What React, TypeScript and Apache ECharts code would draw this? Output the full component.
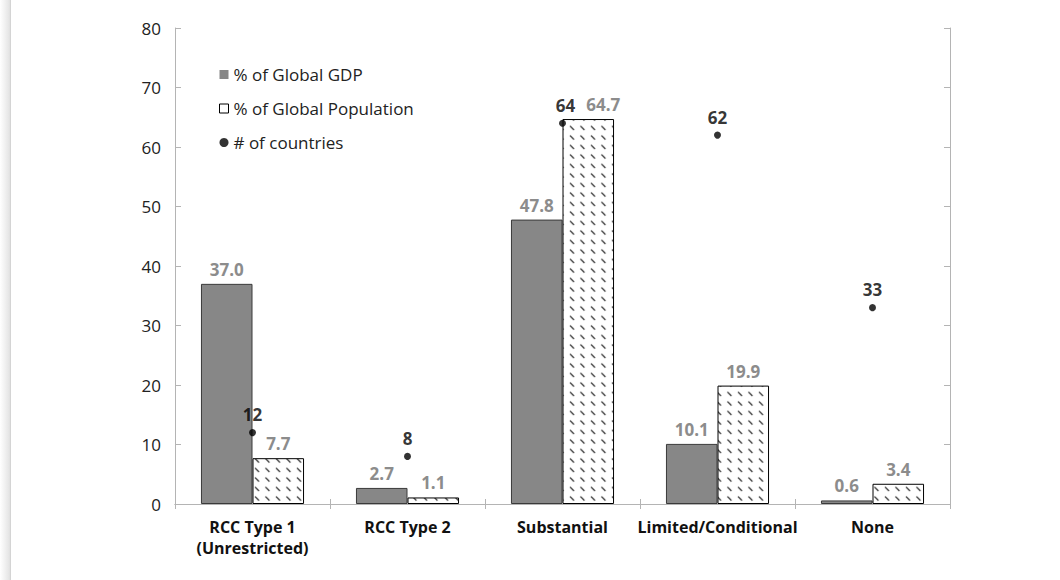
import React, { useEffect, useRef } from "react";
import * as echarts from "echarts";

const categories = ["RCC Type 1\n(Unrestricted)", "RCC Type 2", "Substantial", "Limited/Conditional", "None"];
const gdpShare = [37.0, 2.7, 47.8, 10.1, 0.6];
const popShare = [7.7, 1.1, 64.7, 19.9, 3.4];
const countries = [12, 8, 64, 62, 33];
const yTicks = { min: 0, max: 80, interval: 10 };

const FONT = "'Open Sans', 'Noto Sans', sans-serif";

const patternSvg =
  '<svg xmlns="http://www.w3.org/2000/svg" width="10.5" height="9.5"><rect width="10.5" height="9.5" fill="#fff"/><line x1="3" y1="2.5" x2="7" y2="6.5" stroke="#111" stroke-width="1.2"/></svg>';
const patternUrl = "data:image/svg+xml;base64," + btoa(patternSvg);

export default function App() {
  const ref = useRef<HTMLDivElement>(null);
  useEffect(() => {
    document.body.style.margin = "0";
    const chart = echarts.init(ref.current!, null, { renderer: "svg" });
    const axisLine = { show: true, lineStyle: { color: "#b4b4b4", width: 1 } };
    const barLabel = {
      show: true,
      position: "top",
      distance: 6,
      color: "#8c8c8c",
      fontWeight: "bold",
      fontSize: 17,
      fontFamily: FONT,
      formatter: (p: any) => Number(p.value).toFixed(1),
    };
    // nudge overlapping labels in the "Substantial" group sideways, as in the source
    const popData = popShare.map((v, i) => (i === 2 ? { value: v, label: { offset: [15, 0] } } : v));
    const countryData = countries.map((v, i) => (i === 2 ? { value: v, label: { offset: [3, 0] } } : v));
    chart.setOption({
      animation: false,
      backgroundColor: "#fff",
      textStyle: { fontFamily: FONT },
      grid: { left: 175, right: 110, top: 28, bottom: 76 },
      legend: {
        orient: "vertical",
        left: 214,
        top: 59,
        itemWidth: 9,
        itemHeight: 9,
        itemGap: 13,
        textStyle: { fontSize: 17, color: "#222", fontFamily: FONT, lineHeight: 21 },
        data: [
          { name: "% of Global GDP", icon: "rect", itemStyle: { color: "#878787", borderWidth: 0 } },
          { name: "% of Global Population", icon: "rect", itemStyle: { color: "#fff", borderColor: "#000", borderWidth: 1 } },
          { name: "# of countries", icon: "circle", itemStyle: { color: "#000" } },
        ],
      },
      xAxis: [
        {
          type: "category",
          data: categories,
          axisLine,
          axisTick: { show: true, inside: true, length: 5, lineStyle: { color: "#b4b4b4" } },
          axisLabel: { interval: 0, fontSize: 16, fontWeight: "bold", color: "#111", margin: 12, lineHeight: 21, fontFamily: FONT },
        },
        {
          type: "category",
          position: "top",
          data: categories,
          axisLine,
          axisTick: { show: true, inside: true, length: 5, lineStyle: { color: "#b4b4b4" } },
          axisLabel: { show: false },
        },
      ],
      yAxis: [
        {
          type: "value",
          min: yTicks.min,
          max: yTicks.max,
          interval: yTicks.interval,
          axisLine,
          axisTick: { show: true, inside: true, length: 6, lineStyle: { color: "#b4b4b4" } },
          splitLine: { show: false },
          axisLabel: { fontSize: 17, color: "#222", margin: 14, fontFamily: FONT },
        },
        {
          type: "value",
          position: "right",
          min: yTicks.min,
          max: yTicks.max,
          interval: yTicks.interval,
          axisLine,
          axisTick: { show: true, inside: true, length: 6, lineStyle: { color: "#b4b4b4" } },
          splitLine: { show: false },
          axisLabel: { show: false },
        },
      ],
      series: [
        {
          name: "% of Global GDP",
          type: "bar",
          data: gdpShare,
          barGap: "0%",
          barCategoryGap: "33.5%",
          itemStyle: { color: "#878787", borderColor: "#3a3a3a", borderWidth: 1 },
          label: barLabel,
        },
        {
          name: "% of Global Population",
          type: "bar",
          data: popData,
          barGap: "0%",
          barCategoryGap: "33.5%",
          itemStyle: {
            color: { image: patternUrl, repeat: "repeat", imageWidth: 10.5, imageHeight: 9.5 },
            borderColor: "#000",
            borderWidth: 1,
          },
          label: barLabel,
        },
        {
          name: "# of countries",
          type: "scatter",
          data: countryData,
          symbolSize: 7,
          itemStyle: { color: "#000" },
          z: 5,
          label: {
            show: true,
            position: "top",
            distance: 6,
            color: "#000",
            fontWeight: "bold",
            fontSize: 17,
            fontFamily: FONT,
          },
        },
      ],
      graphic: [
        {
          type: "rect",
          left: 0,
          top: 0,
          shape: { width: 11, height: 580 },
          style: {
            fill: new echarts.graphic.LinearGradient(0, 0, 1, 0, [
              { offset: 0, color: "rgba(255,255,255,1)" },
              { offset: 0.85, color: "rgba(228,228,228,1)" },
              { offset: 1, color: "rgba(205,205,205,1)" },
            ]),
          },
          silent: true,
        },
      ],
    });
    return () => chart.dispose();
  }, []);
  return <div ref={ref} style={{ width: 1060, height: 580 }} />;
}
